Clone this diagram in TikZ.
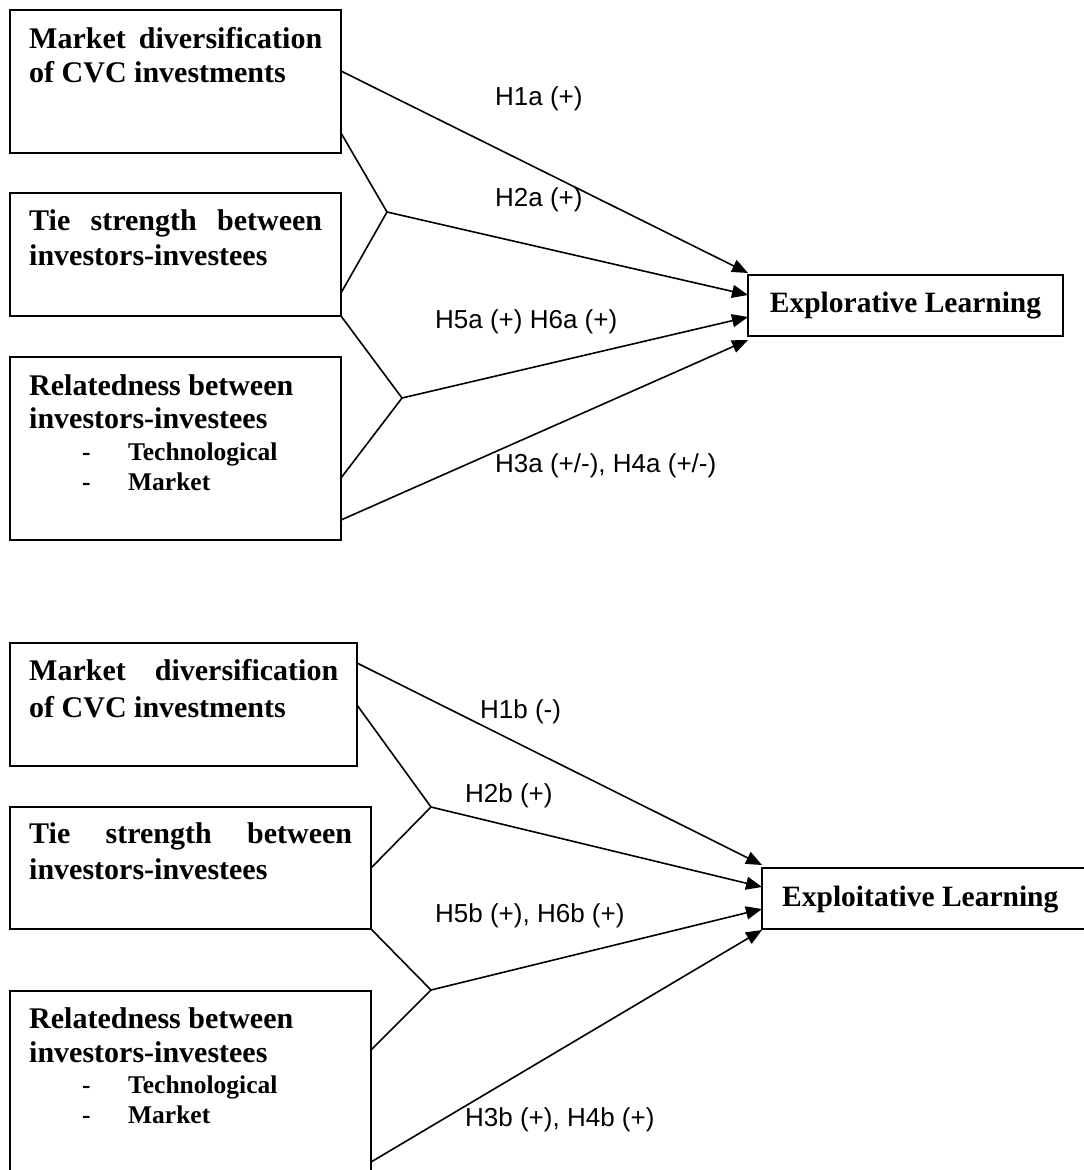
\documentclass[tikz,border=0pt]{standalone}
\usepackage{fontspec}
\setmainfont{Liberation Serif}
\newfontfamily\labfont{Liberation Sans}
\usetikzlibrary{arrows.meta,calc}
\tikzset{
  boxnode/.style={draw, line width=2pt, inner sep=0pt, outer sep=0pt, anchor=north west},
  boxtext/.style={anchor=north west, inner sep=0pt, align=left, font=\bfseries\fontsize{30}{34}\selectfont},
  itemtext/.style={anchor=north west, inner sep=0pt, align=left, font=\bfseries\fontsize{25.5}{30}\selectfont},
  outtext/.style={inner sep=0pt, font=\bfseries\fontsize{29.5}{34}\selectfont},
  hyp/.style={anchor=base west, inner sep=0pt, font=\labfont\fontsize{26}{30}\selectfont},
  conn/.style={line width=1.6pt},
  arr/.style={line width=1.6pt, -{Triangle[length=16pt,width=13pt]}},
}
\newcommand{\itemdash}{\makebox[46pt][l]{-}}
\begin{document}
\begin{tikzpicture}[x=1pt,y=-1pt]
\useasboundingbox (0,0) rectangle (1084,1170);
\clip (0,0) rectangle (1084,1170);

% ---------------- top panel ----------------
\node[boxnode, minimum width=331pt, minimum height=143pt] (a1) at (10,10) {};
\node[boxnode, minimum width=331pt, minimum height=123pt] (a2) at (10,193) {};
\node[boxnode, minimum width=331pt, minimum height=183pt] (a3) at (10,357) {};
\node[boxnode, minimum width=315pt, minimum height=61pt] (L1) at (748,275) {};
\node[outtext] (L1t) at (L1.center) {Explorative Learning};

\node[boxtext] (a1t) at (29,27.5) {\makebox[293pt][s]{Market diversification}\\of CVC investments};
\node[boxtext, font=\bfseries\fontsize{30}{35}\selectfont] (a2t) at (29,209.5) {\makebox[293pt][s]{Tie strength between}\\investors-investees};
\node[boxtext, font=\bfseries\fontsize{30}{33}\selectfont] (a3t) at (29,374.5) {Relatedness between\\investors-investees};
\node[itemtext] (a3i) at (82,442.7) {\itemdash Technological\\\itemdash Market};

\coordinate (j1) at (387,212);
\coordinate (j2) at (402,398);
\draw[arr] (a1.east |- 0,71) -- (L1.west |- 0,273);
\draw[conn] (a1.east |- 0,133) -- (j1) -- (a2.east |- 0,293);
\draw[arr] (j1) -- (L1.west |- 0,295);
\draw[conn] (a2.south east) -- (j2) -- (a3.east |- 0,478);
\draw[arr] (j2) -- (L1.west |- 0,317);
\draw[arr] (a3.east |- 0,520) -- (L1.west |- 0,340);

\node[hyp] (h1a) at (495,105) {H1a (+)};
\node[hyp] (h2a) at (495,206) {H2a (+)};
\node[hyp] (h5a) at (435,328) {H5a (+) H6a (+)};
\node[hyp] (h3a) at (495,472) {H3a (+/-), H4a (+/-)};

% ---------------- bottom panel ----------------
\node[boxnode, minimum width=347pt, minimum height=123pt] (b1) at (10,643) {};
\node[boxnode, minimum width=361pt, minimum height=122pt] (b2) at (10,807) {};
\node[boxnode, minimum width=361pt, minimum height=200pt] (b3) at (10,991) {};
\node[boxnode, minimum width=360pt, minimum height=61pt] (L2) at (762,868) {};
\node[outtext, anchor=base west] (L2t) at (782,906) {Exploitative Learning};

\node[boxtext, font=\bfseries\fontsize{30}{37}\selectfont] (b1t) at (29,659.5) {\makebox[309pt][s]{Market diversification}\\of CVC investments};
\node[boxtext, font=\bfseries\fontsize{30}{36}\selectfont] (b2t) at (29,822.5) {\makebox[323pt][s]{Tie strength between}\\investors-investees};
\node[boxtext, font=\bfseries\fontsize{30}{34}\selectfont] (b3t) at (29,1007.5) {Relatedness between\\investors-investees};
\node[itemtext] (b3i) at (82,1075.7) {\itemdash Technological\\\itemdash Market};

\coordinate (j3) at (431,807);
\coordinate (j4) at (431,990);
\draw[arr] (b1.east |- 0,663) -- (L2.west |- 0,865);
\draw[conn] (b1.east |- 0,705) -- (j3) -- (b2.east |- 0,868);
\draw[arr] (j3) -- (L2.west |- 0,887);
\draw[conn] (b2.south east) -- (j4) -- (b3.east |- 0,1050);
\draw[arr] (j4) -- (L2.west |- 0,909);
\draw[arr] (b3.east |- 0,1162) -- (L2.west |- 0,930);

\node[hyp] (h1b) at (480,718) {H1b (-)};
\node[hyp] (h2b) at (465,802) {H2b (+)};
\node[hyp] (h5b) at (435,922) {H5b (+), H6b (+)};
\node[hyp] (h3b) at (465,1126) {H3b (+), H4b (+)};
\end{tikzpicture}
\end{document}
